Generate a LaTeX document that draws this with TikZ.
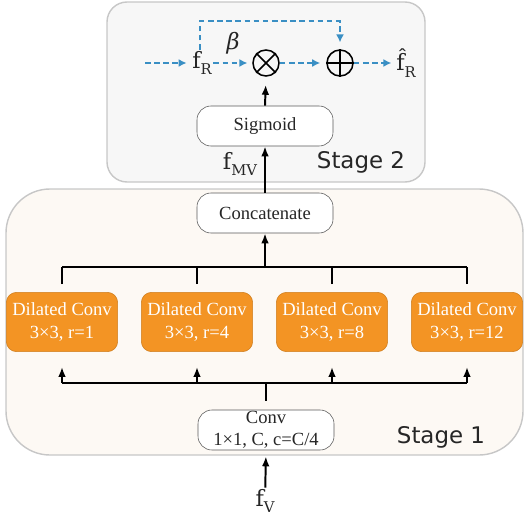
\documentclass[tikz,border=0pt]{standalone}
\usepackage{fontspec}
\setmainfont{Liberation Serif}
\newfontfamily\stagefont{DejaVu Sans}
\newfontfamily\lblfont{DejaVu Serif}
\usetikzlibrary{arrows.meta}

\definecolor{convorange}{HTML}{F39424}
\definecolor{flowblue}{HTML}{3A8FC4}
\definecolor{stageonefill}{HTML}{FDF9F4}
\definecolor{stagetwofill}{HTML}{F7F7F7}

% feature label with an upright subscript
\newcommand{\feat}[2]{#1\raisebox{-.55ex}{\fontsize{10.5}{10.5}\selectfont #2}}

\tikzset{
  stagebox/.style={draw=black!22, line width=1pt},
  opbox/.style={draw=black!65, fill=white, rounded corners=0.35cm, minimum width=3.4cm, minimum height=1cm, inner sep=1pt, align=center, text=black!85, font=\fontsize{13.2}{15.6}\selectfont},
  dilbox/.style={draw=convorange!85!black, fill=convorange, text=white, rounded corners=0.25cm, minimum width=2.78cm, minimum height=1.48cm, inner sep=1pt, align=center, font=\fontsize{13.2}{16.3}\selectfont},
  featlbl/.style={inner sep=1pt, text=black!85, font=\lblfont\fontsize{16}{18}\selectfont},
  flow/.style={line width=1.4pt, -{Latex[length=0.25cm,width=0.19cm]}},
  bus/.style={line width=1.4pt},
  dflow/.style={flowblue, line width=1.4pt, dash pattern=on 4pt off 2.5pt, -{Latex[length=0.2cm,width=0.2cm]}},
  opcircle/.style={circle, draw, line width=1.1pt, minimum size=0.65cm, inner sep=0pt}
}

\begin{document}
\begin{tikzpicture}[x=0.025cm, y=-0.025cm]
\useasboundingbox (0,0) rectangle (524,518);

%stages
\draw[stagebox, fill=stagetwofill, rounded corners=0.5cm] (107,2) rectangle (425,182);
\draw[stagebox, fill=stageonefill, rounded corners=1.1cm] (6,189) rectangle (523,455);
\node[font=\stagefont\fontsize{16.3}{18}\selectfont, text=black!85] (stagetwo) at (361,162) {Stage 2};
\node[font=\stagefont\fontsize{16.3}{18}\selectfont, text=black!85] (stageone) at (441,437) {Stage 1};

%stage 1
\node[opbox] (conv) at (266,430) {Conv\\1×1, C, c=C/4};
\node[opbox] (concat) at (265,213) {Concatenate};
\foreach \x/\r [count=\i] in {62/1,197/4,332/8,467/12}
  \node[dilbox] (dil\i) at (\x,322) {Dilated Conv\\3×3, r=\r};

\coordinate (upbus) at (265,267);
\coordinate (lowbus) at (266,383);
\draw[bus] (dil1.north |- upbus) -- (dil4.north |- upbus);
\draw[bus] (dil1.south |- lowbus) -- (dil4.south |- lowbus);
\foreach \i in {1,...,4}{
  \draw[bus] ([yshift=0.2cm]dil\i.north) -- (dil\i.north |- upbus);
  \draw[flow] (dil\i.south |- lowbus) -- ([yshift=-0.375cm]dil\i.south);
}
\draw[flow] (upbus) -- (concat.south);
\draw[bus] ([yshift=0.225cm]conv.north) -- (lowbus);

\node[featlbl] (fv) at (265,501) {\feat{f}{V}};
\draw[flow, shorten >=0.15cm] (fv) -- (conv.south);

%stage 2
\node[opbox] (sigmoid) at (265,126) {Sigmoid};
\draw[flow] (concat.north) -- (sigmoid.south);
\node[featlbl] (fmv) at (240,164) {\feat{f}{MV}};

\node[opcircle] (mul) at (266,63) {};
\draw[line width=1.1pt] (mul.north west) -- (mul.south east) (mul.north east) -- (mul.south west);
\node[opcircle] (add) at (340,63) {};
\draw[line width=1.1pt] (add.north) -- (add.south) (add.west) -- (add.east);
\draw[flow, shorten >=0.2cm] (sigmoid.north) -- (mul.south);

\node[featlbl] (fr) at (202,63) {\feat{f}{R}};
\node[featlbl] (frout) at (406,63) {\feat{\^f}{R}};
\node[inner sep=1pt, text=black!85, font=\lblfont\itshape\fontsize{16}{18}\selectfont] (beta) at (233,43) {β};
\coordinate (frin) at (145,63);
\coordinate (bypass) at (340,21);

\draw[dflow, shorten >=0.1cm] (frin) -- (fr);
\draw[dflow, shorten >=0.12cm] (fr) -- (mul);
\draw[dflow, shorten >=0.15cm] (mul) -- (add);
\draw[dflow, shorten >=0.08cm] (add) -- (frout);
\draw[dflow, shorten >=0.17cm] ([xshift=-0.05cm]fr.north) |- (bypass) -- (add.north);

\end{tikzpicture}
\end{document}
